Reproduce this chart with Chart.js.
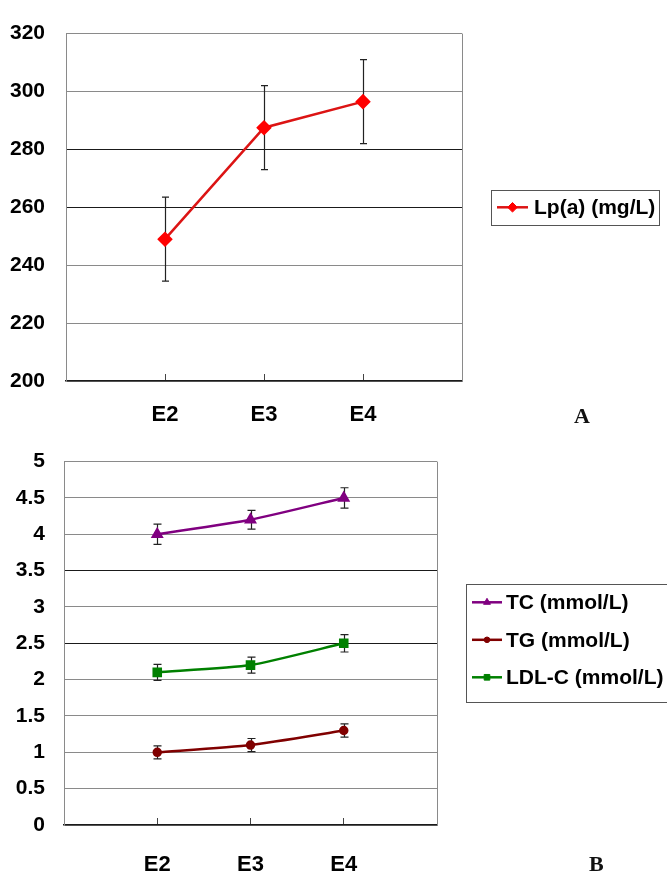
<!DOCTYPE html>
<html>
<head>
<meta charset="utf-8">
<script src="https://cdn.jsdelivr.net/npm/chart.js@4/dist/chart.umd.min.js"></script>
<style>
  html,body{margin:0;padding:0;background:#fff;overflow:hidden}
  body{width:667px;height:877px;position:relative}
  canvas{position:absolute;left:0}
  #chartA{top:0}
  #chartB{top:430px}
  .tag{position:absolute;font-family:"Liberation Serif","Times New Roman",serif;font-weight:bold;font-size:22px;line-height:22px;color:#111}
</style>
</head>
<body>
<canvas id="chartA" width="667" height="430"></canvas>
<canvas id="chartB" width="667" height="447"></canvas>
<div class="tag" style="left:574px;top:405px">A</div>
<div class="tag" style="left:589px;top:853px">B</div>
<script>
// dados
const categories = ['E2', 'E3', 'E4'];

const lpaValues = [249, 287.5, 296.5];
const lpaErrors = [14.5, 14.5, 14.5];

const tcValues = [4.0, 4.2, 4.5];
const tcErrors = [0.14, 0.13, 0.14];
const tgValues = [1.0, 1.1, 1.3];
const tgErrors = [0.09, 0.09, 0.09];
const ldlValues = [2.1, 2.2, 2.5];
const ldlErrors = [0.11, 0.11, 0.12];

const yTicksA = {min: 200, max: 320, step: 20, dark: [260, 280]};
const yTicksB = {min: 0, max: 5, step: 0.5, dark: [2.5, 3.5]};

const FONT = '"Liberation Sans", Arial, sans-serif';

function pts(vals){ return vals.map((v,i)=>({x:i+1, y:v})); }

// barras de erro, desenhadas pelas escalas do próprio gráfico
const errorBars = {
  id: 'errorBars',
  beforeDatasetsDraw(chart){
    const ctx = chart.ctx, xs = chart.scales.x, ys = chart.scales.y;
    const cw = chart.options.plugins.errorBars.cap;
    ctx.save();
    ctx.strokeStyle = '#222';
    ctx.lineWidth = 1.2;
    chart.data.datasets.forEach(ds=>{
      (ds.errors || []).forEach((e,i)=>{
        const p = ds.data[i];
        const x = Math.round(xs.getPixelForValue(p.x)) + 0.5;
        const y1 = ys.getPixelForValue(p.y + e), y2 = ys.getPixelForValue(p.y - e);
        ctx.beginPath();
        ctx.moveTo(x, y1); ctx.lineTo(x, y2);
        ctx.moveTo(x - cw, y1); ctx.lineTo(x + cw, y1);
        ctx.moveTo(x - cw, y2); ctx.lineTo(x + cw, y2);
        ctx.stroke();
      });
    });
    ctx.restore();
  }
};

// borda direita da área do gráfico
const plotFrame = {
  id: 'plotFrame',
  beforeDatasetsDraw(chart){
    const {ctx, chartArea:a} = chart;
    ctx.save();
    ctx.strokeStyle = '#8a8a8a'; ctx.lineWidth = 1;
    ctx.beginPath();
    ctx.moveTo(Math.round(a.right)+0.5, a.top); ctx.lineTo(Math.round(a.right)+0.5, a.bottom);
    ctx.stroke();
    ctx.restore();
  }
};

// legenda com caixa, estilo Excel
const boxLegend = {
  id: 'boxLegend',
  afterDraw(chart){
    const o = chart.options.plugins.boxLegend;
    const {ctx, chartArea:a} = chart;
    const left = a.right + o.gap;
    const top = (a.top + a.bottom)/2 - o.height/2;
    ctx.save();
    ctx.strokeStyle = '#555'; ctx.lineWidth = 1;
    ctx.strokeRect(Math.round(left)+0.5, Math.round(top)+0.5, o.width, o.height);
    ctx.font = 'bold ' + o.fontSize + 'px ' + FONT;
    ctx.textBaseline = 'middle';
    chart.data.datasets.forEach((ds,i)=>{
      const y = top + o.first + i*o.spacing;
      ctx.strokeStyle = ds.borderColor; ctx.lineWidth = ds.borderWidth;
      ctx.beginPath(); ctx.moveTo(left + o.lineFrom, y); ctx.lineTo(left + o.lineTo, y); ctx.stroke();
      ctx.fillStyle = ds.pointBackgroundColor; ctx.strokeStyle = ds.pointBorderColor; ctx.lineWidth = 1;
      Chart.helpers.drawPoint(ctx, {pointStyle: ds.pointStyle, radius: ds.pointRadius*0.8, rotation: 0, borderWidth: 1},
        left + (o.lineFrom + o.lineTo)/2, y);
      ctx.fillStyle = '#000';
      ctx.fillText(ds.label, left + o.textX, y + 1);
    });
    ctx.restore();
  }
};

function makeOptions(t, cfg){
  return {
    responsive: false,
    animation: false,
    layout: {padding: {top: cfg.top, right: cfg.right, left: 0, bottom: 0}},
    plugins: {
      legend: {display: false},
      tooltip: {enabled: false},
      errorBars: {cap: cfg.cap},
      boxLegend: cfg.legend
    },
    scales: {
      x: {
        type: 'linear', min: 0, max: categories.length + 1,
        afterBuildTicks(s){ s.ticks = [0,1,2,3,4].map(v=>({value:v})); },
        afterFit(s){ s.height = cfg.xHeight; },
        border: {color: '#1a1a1a', width: 1.5},
        grid: {drawOnChartArea: false, drawTicks: true, tickLength: -7,
               color: c => (c.tick && c.tick.value >= 1 && c.tick.value <= categories.length) ? '#444' : 'rgba(0,0,0,0)'},
        ticks: {padding: cfg.xPad, color: '#000', font: {family: FONT, size: 22, weight: 'bold'},
                callback: v => categories[v-1] || ''}
      },
      y: {
        min: t.min, max: t.max,
        afterFit(s){ s.width = cfg.yWidth; },
        border: {color: '#8a8a8a', width: 1},
        grid: {drawTicks: false, lineWidth: 1,
               color: c => t.dark.some(d=>Math.abs(d - c.tick.value) < 1e-6) ? '#1a1a1a' : '#8a8a8a'},
        ticks: {stepSize: t.step, padding: cfg.yPad, color: '#000', font: {family: FONT, size: 21, weight: 'bold'},
                callback: v => String(Math.round(v*10)/10)}
      }
    }
  };
}

new Chart(document.getElementById('chartA'), {
  type: 'line',
  data: {datasets: [{
    label: 'Lp(a) (mg/L)', data: pts(lpaValues), errors: lpaErrors,
    borderColor: '#dc1414', borderWidth: 2.5, pointStyle: 'rectRot', pointRadius: 6,
    pointBackgroundColor: '#ff0000', pointBorderColor: '#ff0000', tension: 0
  }]},
  options: makeOptions(yTicksA, {
    top: 28, right: 205, xHeight: 49, xPad: 28, yWidth: 66, yPad: 21, cap: 3.5,
    legend: {gap: 29, width: 168, height: 35, fontSize: 21, first: 17.5, spacing: 0, lineFrom: 6, lineTo: 37, textX: 43}
  }),
  plugins: [plotFrame, errorBars, boxLegend]
});

new Chart(document.getElementById('chartB'), {
  type: 'line',
  data: {datasets: [
    {label: 'TC (mmol/L)', data: pts(tcValues), errors: tcErrors,
     borderColor: '#800080', borderWidth: 2.5, pointStyle: 'triangle', pointRadius: 5,
     pointBackgroundColor: '#800080', pointBorderColor: '#800080', tension: 0.2},
    {label: 'TG (mmol/L)', data: pts(tgValues), errors: tgErrors,
     borderColor: '#800000', borderWidth: 2.5, pointStyle: 'circle', pointRadius: 3.5,
     pointBackgroundColor: '#800000', pointBorderColor: '#800000', tension: 0.2},
    {label: 'LDL-C (mmol/L)', data: pts(ldlValues), errors: ldlErrors,
     borderColor: '#008000', borderWidth: 2.5, pointStyle: 'rect', pointRadius: 5,
     pointBackgroundColor: '#008000', pointBorderColor: '#008000', tension: 0.2}
  ]},
  options: makeOptions(yTicksB, {
    top: 19, right: 230, xHeight: 52, xPad: 34, yWidth: 64, yPad: 19, cap: 4,
    legend: {gap: 29, width: 230, height: 118, fontSize: 21, first: 18, spacing: 37.5, lineFrom: 6, lineTo: 36, textX: 40}
  }),
  plugins: [plotFrame, errorBars, boxLegend]
});
</script>
</body>
</html>
